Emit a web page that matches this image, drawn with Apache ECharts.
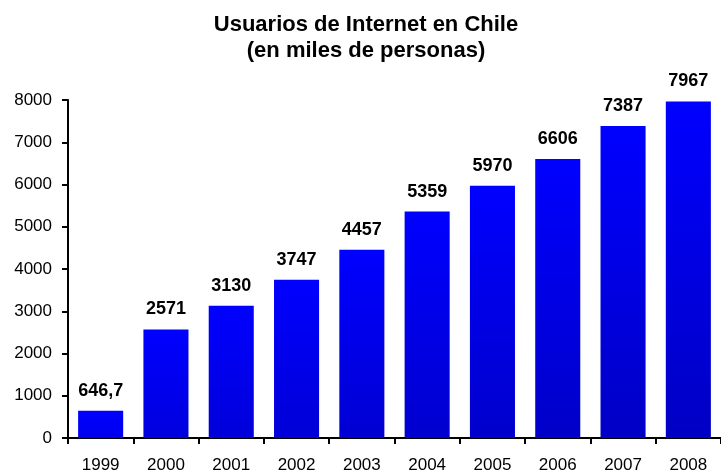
<!DOCTYPE html>
<html>
<head>
<meta charset="utf-8">
<script src="https://cdn.jsdelivr.net/npm/echarts@6/dist/echarts.min.js"></script>
<style>
  html, body { margin: 0; padding: 0; background: #fff; }
  #chart { width: 721px; height: 474px; }
</style>
</head>
<body>
<div id="chart"></div>
<script>
// Usuarios de Internet en Chile (miles de personas)
const years = ['1999', '2000', '2001', '2002', '2003', '2004', '2005', '2006', '2007', '2008'];
const usuarios = [646.7, 2571, 3130, 3747, 4457, 5359, 5970, 6606, 7387, 7967];
const yTicks = { min: 0, max: 8000, interval: 1000 };

const FONT = 'Liberation Sans, Arial, sans-serif';

// Vertical blue gradient per bar: bright at the top, deeper at the base for taller bars
function barFill(v) {
  const depth = Math.sqrt(v / yTicks.max);
  const b = Math.round(255 - (255 - 196) * depth);
  return {
    type: 'linear', x: 0, y: 0, x2: 0, y2: 1,
    colorStops: [
      { offset: 0, color: '#0000ff' },
      { offset: 1, color: 'rgb(0,0,' + b + ')' }
    ]
  };
}

const chart = echarts.init(document.getElementById('chart'), null, { renderer: 'canvas' });
chart.setOption({
  animation: false,
  backgroundColor: '#ffffff',
  title: {
    text: 'Usuarios de Internet en Chile\n(en miles de personas)',
    left: 361,
    textAlign: 'center',
    top: 7,
    textStyle: {
      fontFamily: FONT,
      fontWeight: 'bold',
      fontSize: 22,
      lineHeight: 26,
      color: '#000'
    }
  },
  grid: { left: 68, top: 100, bottom: 35, width: 654, containLabel: false },
  xAxis: {
    type: 'category',
    data: years,
    axisLine: { lineStyle: { color: '#000', width: 2 } },
    axisTick: { show: true, length: 6, lineStyle: { color: '#000', width: 2 } },
    axisLabel: { color: '#000', fontSize: 17, margin: 19, fontFamily: FONT },
    splitLine: { show: false }
  },
  yAxis: {
    type: 'value',
    min: yTicks.min, max: yTicks.max, interval: yTicks.interval,
    axisLine: { show: true, lineStyle: { color: '#000', width: 2 } },
    axisTick: { show: true, length: 6, lineStyle: { color: '#000', width: 2 } },
    axisLabel: {
      color: '#000', fontSize: 17, margin: 16, fontFamily: FONT,
      formatter: v => String(v)
    },
    splitLine: { show: false }
  },
  series: [{
    type: 'bar',
    data: usuarios.map(v => ({ value: v, itemStyle: { color: barFill(v) } })),
    barCategoryGap: '31%',
    label: {
      show: true,
      position: 'top',
      distance: 11,
      color: '#000',
      fontSize: 18,
      fontWeight: 'bold',
      fontFamily: FONT,
      formatter: p => String(p.value).replace('.', ',')
    }
  }]
});
</script>
</body>
</html>
